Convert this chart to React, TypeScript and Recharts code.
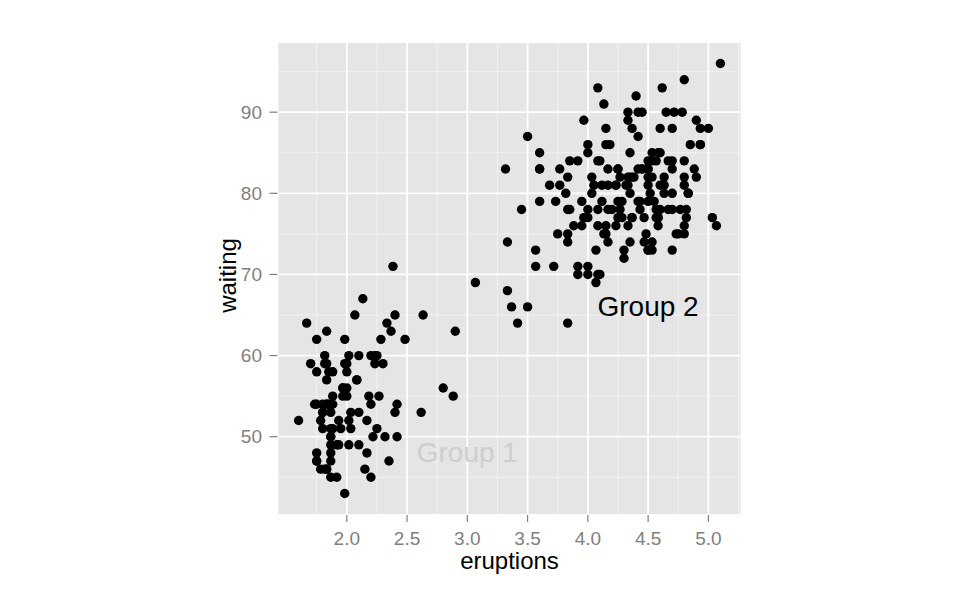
import { ScatterChart, Scatter, XAxis, YAxis, CartesianGrid } from 'recharts';

// Old Faithful geyser: eruption length (min) and waiting time (min)
const eruptions = [
  3.6, 1.8, 3.333, 2.283, 4.533, 2.883, 4.7, 3.6, 1.95, 4.35,
  1.833, 3.917, 4.2, 1.75, 4.7, 2.167, 1.75, 4.8, 1.6, 4.25,
  1.8, 1.75, 3.45, 3.067, 4.533, 3.6, 1.967, 4.083, 3.85, 4.433,
  4.3, 4.467, 3.367, 4.033, 3.833, 2.017, 1.867, 4.833, 1.833, 4.783,
  4.35, 1.883, 4.567, 1.75, 4.533, 3.317, 3.833, 2.1, 4.633, 2.0,
  4.8, 4.716, 1.833, 4.833, 1.733, 4.883, 3.717, 1.667, 4.567, 4.317,
  2.233, 4.5, 1.75, 4.8, 1.817, 4.4, 4.167, 4.7, 2.067, 4.7,
  4.033, 1.967, 4.5, 4.0, 1.983, 5.067, 2.017, 4.567, 3.883, 3.6,
  4.133, 4.333, 4.1, 2.633, 4.067, 4.933, 3.95, 4.517, 2.167, 4.0,
  2.2, 4.333, 1.867, 4.817, 1.833, 4.3, 4.667, 3.75, 1.867, 4.9,
  2.483, 4.367, 2.1, 4.5, 4.05, 1.867, 4.7, 1.783, 4.85, 3.683,
  4.733, 2.3, 4.9, 4.417, 1.7, 4.633, 2.317, 4.6, 1.817, 4.417,
  2.617, 4.067, 4.25, 1.967, 4.6, 3.767, 1.917, 4.5, 2.267, 4.65,
  1.867, 4.167, 2.8, 4.333, 1.833, 4.383, 1.883, 4.933, 2.033, 3.733,
  4.233, 2.233, 4.533, 4.817, 4.333, 1.983, 4.633, 2.017, 5.1, 1.8,
  5.033, 4.0, 2.4, 4.6, 3.567, 4.0, 4.5, 4.083, 1.8, 3.967,
  2.2, 4.15, 2.0, 3.833, 3.5, 4.583, 2.367, 5.0, 1.933, 4.617,
  1.917, 2.083, 4.583, 3.333, 4.167, 4.333, 4.5, 2.417, 4.0, 4.167,
  1.883, 4.583, 4.25, 3.767, 2.033, 4.433, 4.083, 1.833, 4.417, 2.183,
  4.8, 1.833, 4.8, 4.1, 3.966, 4.233, 3.5, 4.366, 2.25, 4.667,
  2.1, 4.35, 4.133, 1.867, 4.6, 1.783, 4.367, 3.85, 1.933, 4.5,
  2.383, 4.7, 1.867, 3.833, 3.417, 4.233, 2.4, 4.8, 2.0, 4.15,
  1.867, 4.267, 1.75, 4.483, 4.0, 4.117, 4.083, 4.267, 3.917, 4.55,
  4.083, 2.417, 4.183, 2.217, 4.45, 1.883, 1.85, 4.283, 3.95, 2.333,
  4.15, 2.35, 4.933, 2.9, 4.583, 3.833, 2.083, 4.367, 2.133, 4.35,
  2.2, 4.45, 3.567, 4.5, 4.15, 3.817, 3.917, 4.45, 2.0, 4.283,
  4.767, 4.533, 1.85, 4.25, 1.983, 2.25, 4.75, 4.117, 2.15, 4.417,
  1.817, 4.467,
];

const waiting = [
  79, 54, 74, 62, 85, 55, 88, 85, 51, 85,
  54, 84, 78, 47, 83, 52, 62, 84, 52, 79,
  51, 47, 78, 69, 74, 83, 55, 76, 78, 79,
  73, 77, 66, 80, 74, 52, 48, 80, 59, 90,
  80, 58, 84, 58, 73, 83, 64, 53, 82, 59,
  75, 90, 54, 80, 54, 83, 71, 64, 77, 81,
  59, 84, 48, 82, 60, 92, 78, 78, 65, 73,
  82, 56, 79, 71, 62, 76, 60, 78, 76, 83,
  75, 82, 70, 65, 73, 88, 76, 80, 48, 86,
  60, 90, 50, 78, 63, 72, 84, 75, 51, 82,
  62, 88, 49, 83, 81, 47, 84, 52, 86, 81,
  75, 59, 89, 79, 59, 81, 50, 85, 59, 87,
  53, 69, 77, 56, 88, 81, 45, 82, 55, 90,
  45, 83, 56, 89, 46, 82, 51, 86, 53, 79,
  81, 60, 82, 77, 76, 59, 80, 49, 96, 53,
  77, 77, 65, 81, 71, 70, 81, 93, 53, 89,
  45, 86, 58, 78, 66, 76, 63, 88, 52, 93,
  49, 57, 77, 68, 81, 81, 73, 50, 85, 74,
  55, 77, 83, 83, 51, 78, 84, 46, 83, 55,
  81, 57, 76, 84, 77, 81, 87, 77, 51, 78,
  60, 82, 91, 53, 78, 46, 77, 84, 49, 83,
  71, 80, 49, 75, 64, 76, 53, 94, 55, 76,
  50, 82, 54, 75, 78, 79, 78, 78, 70, 79,
  70, 54, 86, 50, 90, 54, 54, 77, 79, 64,
  75, 47, 86, 63, 85, 82, 57, 82, 67, 74,
  54, 83, 73, 73, 88, 80, 71, 83, 56, 79,
  78, 84, 58, 83, 43, 60, 75, 81, 46, 90,
  46, 74,
];

const xTicks = [2, 2.5, 3, 3.5, 4, 4.5, 5];
const yTicks = [50, 60, 70, 80, 90];
const xMinor = [1.75, 2.25, 2.75, 3.25, 3.75, 4.25, 4.75, 5.25];
const yMinor = [45, 55, 65, 75, 85, 95];
const xDomain = [1.425, 5.275];
const yDomain = [40.35, 98.65];

const annotations = [
  { eruptions: 3, waiting: 48, label: 'Group 1', color: '#CECECE' },
  { eruptions: 4.5, waiting: 66, label: 'Group 2', color: '#000000' },
];

const data = eruptions.map((e, i) => ({ eruptions: e, waiting: waiting[i] }));

const GREY = '#7F7F7F';

const Dot = (p: any) => <circle cx={p.cx} cy={p.cy} r={4.7} fill="#000" />;

const Note = (p: any) => (
  <text x={p.cx} y={p.cy} textAnchor="middle" dominantBaseline="central" fontSize={28} fill={p.payload.color}>
    {p.payload.label}
  </text>
);

export default function App() {
  return (
    <div style={{ position: 'absolute', left: 0, top: 0, width: 957, height: 600, background: '#fff', fontFamily: '"Liberation Sans", Arial, Helvetica, sans-serif' }}>
      <ScatterChart width={957} height={600} margin={{ top: 42, right: 215.5, bottom: 25, left: 207.5 }}>
        {/* minor grid on hidden axes, major grid on the visible ones */}
        <CartesianGrid xAxisId="minor" yAxisId="minor" fill="#E5E5E5" fillOpacity={1} stroke="#F2F2F2" strokeWidth={1} />
        <CartesianGrid stroke="#FFFFFF" strokeWidth={1.8} />
        <XAxis xAxisId="minor" type="number" dataKey="eruptions" domain={xDomain} ticks={xMinor} interval={0} allowDataOverflow hide />
        <YAxis yAxisId="minor" type="number" dataKey="waiting" domain={yDomain} ticks={yMinor} interval={0} allowDataOverflow hide />
        <XAxis
          type="number"
          dataKey="eruptions"
          domain={xDomain}
          ticks={xTicks}
          interval={0}
          allowDataOverflow
          tickFormatter={(v: number) => v.toFixed(1)}
          height={60}
          axisLine={false}
          tickSize={7}
          tickMargin={10}
          tickLine={{ stroke: GREY, strokeWidth: 1.2 }}
          tick={{ fill: GREY, fontSize: 19 }}
          label={{
            content: ({ viewBox }: any) => (
              <text x={viewBox.x + viewBox.width / 2} y={viewBox.y + 54} textAnchor="middle" fontSize={24} fill="#000">
                eruptions
              </text>
            ),
          }}
        />
        <YAxis
          type="number"
          dataKey="waiting"
          domain={yDomain}
          ticks={yTicks}
          interval={0}
          allowDataOverflow
          width={70}
          axisLine={false}
          tickSize={8}
          tickMargin={7.5}
          tickLine={{ stroke: GREY, strokeWidth: 1.2 }}
          tick={{ fill: GREY, fontSize: 19 }}
          label={{
            content: ({ viewBox }: any) => {
              const x = viewBox.x + 28.5;
              const y = viewBox.y + viewBox.height / 2 - 3;
              return (
                <text x={x} y={y} transform={`rotate(-90, ${x}, ${y})`} textAnchor="middle" fontSize={24} fill="#000">
                  waiting
                </text>
              );
            },
          }}
        />
        <Scatter data={data} shape={Dot} isAnimationActive={false} />
        <Scatter data={annotations} shape={Note} isAnimationActive={false} />
      </ScatterChart>
    </div>
  );
}
